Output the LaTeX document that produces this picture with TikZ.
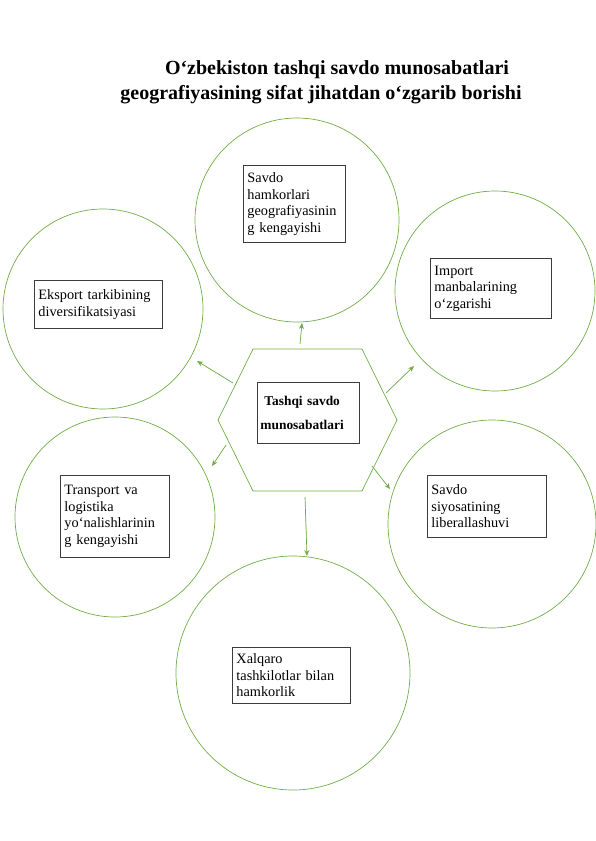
\documentclass[tikz,border=0pt]{standalone}
\usepackage{fontspec}
\setmainfont{Liberation Serif}
\usepackage{tikz}
\definecolor{white}{rgb}{1.0, 1.0, 1.0}
\definecolor{black}{rgb}{0.0, 0.0, 0.0}
\definecolor{lgreen}{RGB}{112, 173, 71}
\definecolor{dgray}{RGB}{60, 60, 60}
\usetikzlibrary{arrows.meta}
\pgfdeclarelayer{edgelayer}
\pgfdeclarelayer{nodelayer}
\pgfsetlayers{edgelayer,nodelayer,main}
\tikzstyle{txtbox}=[rectangle,draw=dgray,line width=0.9pt,fill=white,align=left,anchor=north west,inner xsep=4pt,inner ysep=2pt,font=\fontsize{14.3}{16.5}\selectfont]
\tikzstyle{ring}=[draw=lgreen,line width=0.7pt]
\tikzstyle{link}=[-{Stealth[length=6pt,width=5pt]},draw=lgreen,fill=lgreen,line width=0.7pt]

\begin{document}
\begin{tikzpicture}[x=1pt,y=-1pt]
        \useasboundingbox (0,0) rectangle (595,841);

        \node [font=\fontsize{20}{23}\bfseries] (title1) at (337, 70) {O‘zbekiston tashqi savdo munosabatlari};
        \node [font=\fontsize{20}{23}\bfseries] (title2) at (321, 95) {geografiyasining sifat jihatdan o‘zgarib borishi};

        \begin{pgfonlayer}{edgelayer}
            \draw [style = ring] (297, 220) circle [radius=102];
            \draw [style = ring] (495, 291) circle [radius=100];
            \draw [style = ring] (103, 309) circle [radius=100];
            \draw [style = ring] (115, 517) circle [radius=100];
            \draw [style = ring] (492, 524) circle [radius=104];
            \draw [style = ring] (293, 673) circle [radius=117];
            \draw [style = ring] (253, 349) -- (362, 349) -- (397, 420) -- (362, 491) -- (253, 491) -- (218, 420) -- cycle;
        \end{pgfonlayer}

        \begin{pgfonlayer}{nodelayer}
            \node [style = txtbox, text width=96pt, minimum height=61pt, inner xsep=3pt, font=\fontsize{13.4}{24}\selectfont\bfseries] (core) at (257, 382) {\hspace*{4pt}Tashqi savdo\\munosabatlari};
            \node [style = txtbox, text width=94pt, minimum height=77pt] (partners) at (243, 165) {Savdo\\hamkorlari\\geografiyasinin\\g kengayishi};
            \node [style = txtbox, text width=113pt, minimum height=60pt] (import) at (430, 258) {Import\\manbalarining\\o‘zgarishi};
            \node [style = txtbox, text width=120pt, minimum height=48pt] (export) at (34, 280) {Eksport tarkibining\\diversifikatsiyasi};
            \node [style = txtbox, text width=101pt, minimum height=82pt] (transport) at (60, 475) {Transport va\\logistika\\yo‘nalishlarinin\\g kengayishi};
            \node [style = txtbox, text width=111pt, minimum height=62pt] (policy) at (427, 475) {Savdo\\siyosatining\\liberallashuvi};
            \node [style = txtbox, text width=110pt, minimum height=56pt] (intl) at (232, 647) {Xalqaro\\tashkilotlar bilan\\hamkorlik};
        \end{pgfonlayer}

        \coordinate (up0) at (300, 344);   \coordinate (up1) at (302, 323);
        \coordinate (ul0) at (233, 383);   \coordinate (ul1) at (197, 361);
        \coordinate (ur0) at (386, 393);   \coordinate (ur1) at (414, 366);
        \coordinate (ll0) at (226, 445);   \coordinate (ll1) at (212, 466);
        \coordinate (lr0) at (372, 466);   \coordinate (lr1) at (390, 489);
        \coordinate (dn0) at (305, 497);   \coordinate (dn1) at (307, 556);

        \begin{pgfonlayer}{edgelayer}
            \draw [style = link] (up0) to (up1);
            \draw [style = link] (ul0) to (ul1);
            \draw [style = link] (ur0) to (ur1);
            \draw [style = link] (ll0) to (ll1);
            \draw [style = link] (lr0) to (lr1);
            \draw [style = link] (dn0) to (dn1);
        \end{pgfonlayer}
    \end{tikzpicture}
\end{document}
